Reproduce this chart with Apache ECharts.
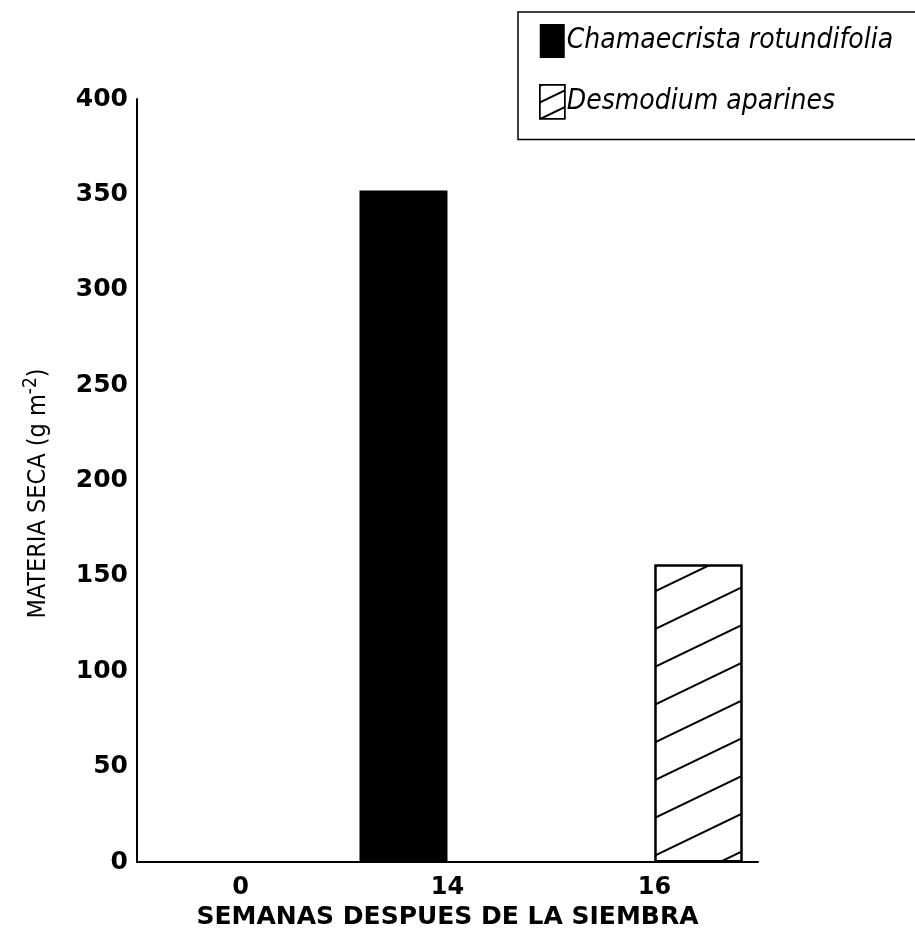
<!DOCTYPE html>
<html>
<head>
<meta charset="utf-8">
<script src="https://cdn.jsdelivr.net/npm/echarts@6/dist/echarts.min.js"></script>
<style>
html,body{margin:0;padding:0;background:#fff;}
#c{width:915px;height:943px;}
</style>
</head>
<body>
<div id="c"></div>
<script>
const categories = ['0', '14', '16'];
const seriesNames = ['Chamaecrista rotundifolia', 'Desmodium aparines'];
const chamaecrista = [0, 352, null];
const desmodium = [0, null, 156];
const yTicks = { min: 0, max: 400, interval: 50 };

const wideFont = "'DejaVu Sans', sans-serif";
const narrowFont = "'Liberation Sans Narrow', 'DejaVu Sans Condensed', 'Liberation Sans', sans-serif";

const hatch = (gap) => ({
  symbol: 'rect',
  symbolSize: 1,
  color: '#000',
  dashArrayX: [1, 0],
  dashArrayY: [1.5, gap],
  rotation: -Math.PI / 7
});

const chart = echarts.init(document.getElementById('c'), null, { renderer: 'canvas' });
chart.setOption({
  backgroundColor: '#fff',
  animation: false,
  grid: { left: 137, right: 157, top: 99, bottom: 81, containLabel: false },
  legend: {
    orient: 'vertical',
    left: 518,
    top: 12,
    padding: [12, 60, 20, 21],
    itemWidth: 25,
    itemHeight: 34,
    itemGap: 26,
    borderColor: '#000',
    borderWidth: 1.5,
    backgroundColor: '#fff',
    icon: 'rect',
    textStyle: { color: '#000', fontSize: 28, fontStyle: 'italic', fontFamily: narrowFont, padding: [0, 0, 0, -3] },
    data: [
      { name: seriesNames[0] },
      { name: seriesNames[1], itemStyle: { color: '#fff', borderColor: '#000', borderWidth: 1.5, decal: hatch(13) } }
    ]
  },
  xAxis: {
    type: 'category',
    data: categories,
    boundaryGap: true,
    axisLine: { show: true, lineStyle: { color: '#000', width: 2 } },
    axisTick: { show: false },
    axisLabel: { color: '#000', fontSize: 24, fontWeight: 'bold', fontFamily: wideFont, margin: 14 },
    name: 'SEMANAS DESPUES DE LA SIEMBRA',
    nameLocation: 'middle',
    nameGap: 41,
    nameTextStyle: { color: '#000', fontSize: 25, fontWeight: 'bold', fontFamily: wideFont }
  },
  yAxis: {
    type: 'value',
    min: yTicks.min,
    max: yTicks.max,
    interval: yTicks.interval,
    splitLine: { show: false },
    axisLine: { show: true, lineStyle: { color: '#000', width: 2 } },
    axisTick: { show: false },
    axisLabel: { color: '#000', fontSize: 25, fontWeight: 'bold', fontFamily: wideFont, margin: 9 },
    name: 'MATERIA SECA (g m{sup|-2})',
    nameLocation: 'middle',
    nameRotate: 90,
    nameGap: 82,
    nameTextStyle: {
      color: '#000', fontSize: 25, fontFamily: narrowFont, padding: [0, 26, 0, 0],
      rich: { sup: { fontSize: 19, fontFamily: narrowFont, color: '#000', verticalAlign: 'top', padding: [0, 0, 14, 0] } }
    }
  },
  series: [
    {
      name: seriesNames[0],
      type: 'bar',
      data: chamaecrista,
      barWidth: 88,
      barGap: '0%',
      itemStyle: { color: '#000' }
    },
    {
      name: seriesNames[1],
      type: 'bar',
      data: desmodium,
      barWidth: 88,
      barGap: '0%',
      itemStyle: {
        color: '#fff',
        borderColor: '#000',
        borderWidth: 2,
        decal: hatch(32)
      }
    }
  ]
});
</script>
</body>
</html>
